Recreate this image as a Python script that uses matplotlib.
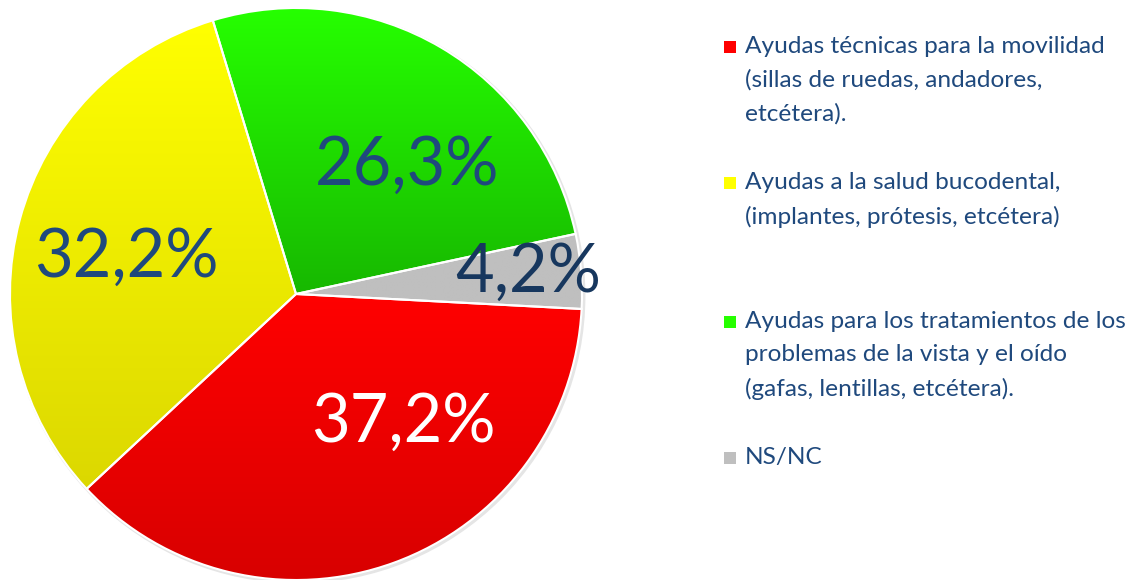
import numpy as np
import matplotlib.pyplot as plt
from matplotlib.colors import LinearSegmentedColormap
from matplotlib.patches import Circle

plt.rcParams['font.family'] = ['Lato', 'DejaVu Sans']

categorias = [
    "Ayudas técnicas para la movilidad\n(sillas de ruedas, andadores,\netcétera).",
    "Ayudas a la salud bucodental,\n(implantes, prótesis, etcétera)",
    "Ayudas para los tratamientos de los\nproblemas de la vista y el oído\n(gafas, lentillas, etcétera).",
    "NS/NC",
]
valores = [37.2, 32.2, 26.3, 4.2]
etiquetas = ["37,2%", "32,2%", "26,3%", "4,2%"]

# colores degradados (arriba -> abajo) por sector
grad = [("#ff0000", "#d80000"), ("#ffff00", "#dcd800"),
        ("#26ff00", "#17b800"), ("#bfbfbf", "#bfbfbf")]
col_txt = ["white", "#1f497d", "#1f497d", "#17375e"]
pos_txt = [(0.375, -0.45), (-0.595, 0.125), (0.39, 0.45), (0.81, 0.075)]

fig = plt.figure(figsize=(11.39, 5.8), dpi=100)
ax = fig.add_axes([10 / 1139, 0, 572 / 1139, 572 / 580])

# sombra suave
sombra = Circle((0.006, -0.006), 1.006, color="#dadada", alpha=0.7, lw=0, zorder=0)
ax.add_patch(sombra)
sombra.set_clip_on(False)

wedges, _ = ax.pie(valores, startangle=-3, counterclock=False, radius=1,
                   colors=[g[1] for g in grad],
                   wedgeprops=dict(edgecolor="white", linewidth=1.5))

for w, (c1, c2) in zip(wedges, grad):
    w.set_zorder(2)
    w.set_clip_on(False)
    ext = w.get_path().get_extents()
    cmap = LinearSegmentedColormap.from_list("g", [c1, c2])
    img = ax.imshow(np.linspace(0, 1, 256).reshape(-1, 1), cmap=cmap, aspect="auto",
                    extent=[ext.x0, ext.x1, ext.y0, ext.y1], origin="upper",
                    zorder=1, interpolation="bilinear")
    img.set_clip_path(w)
    w.set_facecolor("none")

for t, (x, y), c in zip(etiquetas, pos_txt, col_txt):
    ax.text(x, y, t, ha="center", va="center", fontsize=48, color=c, zorder=5)

ax.set_xlim(-1.0, 1.0)
ax.set_ylim(-1.0, 1.0)
ax.set_aspect("equal")
ax.axis("off")

# leyenda manual
y_ley = [47, 183, 322, 458]
for cat, g, y0 in zip(categorias, grad, y_ley):
    fig.patches.append(plt.Rectangle((724 / 1139, 1 - (y0 + 6) / 580), 12 / 1139, 12 / 580,
                                     transform=fig.transFigure, facecolor=g[0],
                                     edgecolor="none"))
    fig.text(745 / 1139, 1 - (y0 - 11) / 580, cat, ha="left", va="top",
             fontsize=17.6, color="#1f497d", linespacing=1.7)

fig.savefig("out.png", dpi=100)
